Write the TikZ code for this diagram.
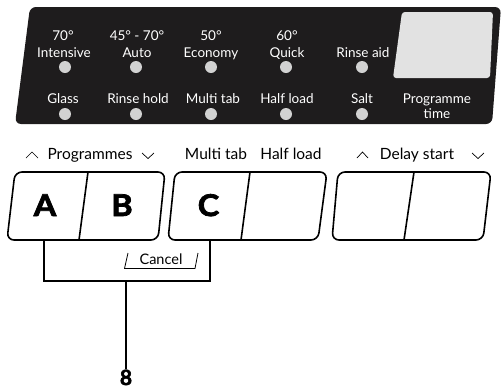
\documentclass[tikz,border=0pt]{standalone}
\usepackage{fontspec}
\setmainfont{Lato}
\newfontfamily\heavyfont[FakeBold=2.5]{Lato}
\definecolor{panelblack}{HTML}{1E1C1D}
\definecolor{ledgray}{HTML}{D2D2D2}
\definecolor{dispgray}{HTML}{E2E2E2}
\begin{document}
\begin{tikzpicture}[x=1pt,y=-1pt,
  panellbl/.style={text=white,font=\fontsize{13.5}{16}\selectfont,inner sep=0,anchor=base},
  led/.style={circle,fill=ledgray,minimum size=12pt,inner sep=0},
  toplbl/.style={font=\fontsize{15.5}{18}\selectfont,inner sep=0,anchor=base},
  keyletter/.style={font=\fontsize{30}{34}\heavyfont\bfseries,inner sep=0,anchor=base,xscale=1.08,transform shape},
  btn/.style={draw,line width=1.6pt,rounded corners=7pt,line join=round},
  divider/.style={draw,line width=1.6pt},
  bracket/.style={draw,line width=1.6pt},
  chev/.style={draw,line width=0.7pt},
  cancelmark/.style={draw,line width=0.8pt}]
\useasboundingbox (0,0) rectangle (504,389);
% panel
\fill[panelblack,rounded corners=6pt] (30,7)--(501,7)--(492,124)--(15,124)--cycle;
\fill[dispgray,rounded corners=3pt] (402,12)--(493,12)--(490,78)--(393,78)--cycle;
% row 1 labels
\node[panellbl] (l1a) at (63,40) {70°};
\node[panellbl] (l1b) at (64,57) {Intensive};
\node[panellbl] (l2a) at (137,40) {45° - 70°};
\node[panellbl] (l2b) at (137,57) {Auto};
\node[panellbl] (l3a) at (211,40) {50°};
\node[panellbl] (l3b) at (211,57) {Economy};
\node[panellbl] (l4a) at (287,40) {60°};
\node[panellbl] (l4b) at (287,57) {Quick};
\node[panellbl] (l5b) at (363,57) {Rinse aid};
% row 1 leds
\node[led] (d1) at (65,67) {};
\node[led] (d2) at (136,67) {};
\node[led] (d3) at (211,67) {};
\node[led] (d4) at (286,67) {};
\node[led] (d5) at (362,67) {};
% row 2 labels
\node[panellbl] (m1) at (63,103) {Glass};
\node[panellbl] (m2) at (138,103) {Rinse hold};
\node[panellbl] (m3) at (213,103) {Multi tab};
\node[panellbl] (m4) at (287,103) {Half load};
\node[panellbl] (m5) at (362,103) {Salt};
\node[panellbl] (m6a) at (437,103) {Programme};
\node[panellbl] (m6b) at (437,118) {time};
% row 2 leds
\node[led] (e1) at (65,114) {};
\node[led] (e2) at (136,114) {};
\node[led] (e3) at (211,114) {};
\node[led] (e4) at (286,114) {};
\node[led] (e5) at (362,114) {};
% labels above buttons
\node[toplbl] (prog) at (90,159) {Programmes};
\node[toplbl] (mt) at (216,159) {Multi tab};
\node[toplbl] (hl) at (291,159) {Half load};
\node[toplbl] (ds) at (417,159) {Delay start};
\draw[chev] (26,158)--(32,152)--(38,158);
\draw[chev] (142,153)--(148,158.5)--(154,153);
\draw[chev] (357,158)--(362.5,152)--(368,158);
\draw[chev] (472,153)--(478,158.5)--(484,153);
% buttons
\path[btn] (15,172)--(165,172)--(158,240)--(7,240)--cycle;
\path[divider] (88,172)--(79,240);
\path[btn] (175,172)--(327,172)--(318,240)--(168,240)--cycle;
\path[divider] (250,172)--(241,240);
\path[btn] (338,172)--(491,172)--(483,240)--(332,240)--cycle;
\path[divider] (414,172)--(404,240);
\node[keyletter] (A) at (45,216) {A};
\node[keyletter] (B) at (122,216) {B};
\node[keyletter] (C) at (208.5,216) {C};
% bracket
\coordinate (abot) at (44,240);
\coordinate (cbot) at (210,240);
\coordinate (mid) at (126,281);
\path[bracket] (abot) -- (abot |- mid) -- (cbot |- mid) -- (cbot);
\node[font=\fontsize{21}{24}\heavyfont\bfseries,inner sep=0,anchor=base] (eight) at (126,385) {8};
\path[bracket] (mid) -- (eight.north);
% cancel
\node[toplbl,font=\fontsize{14.5}{17}\selectfont] (cancel) at (161,264) {Cancel};
\path[cancelmark] (128,253)--(124.5,268.5)--(195,268.5)--(198,253);
\end{tikzpicture}
\end{document}
